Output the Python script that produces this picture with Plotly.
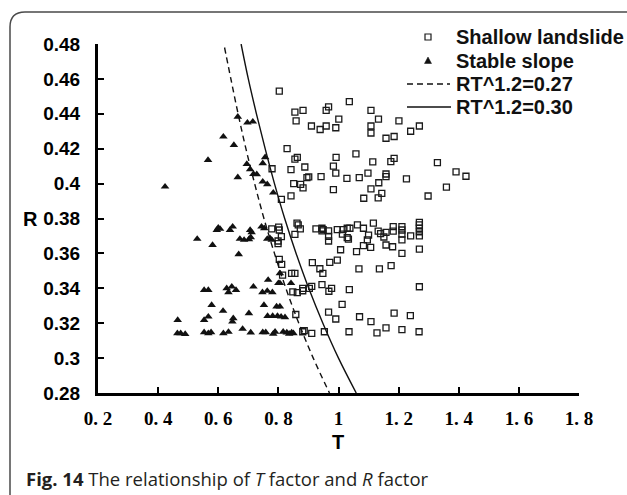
import plotly.graph_objects as go

# ---------------- data ----------------
landslide_T = [0.803, 0.855, 0.882, 0.859, 0.959, 0.967, 1.036, 1.108, 1.001, 0.910, 0.939, 0.959, 0.991, 1.108, 1.108, 1.133, 1.201, 1.158, 1.185, 1.240, 1.269,
               0.829, 0.855, 0.863, 0.779, 0.842, 0.888, 0.810, 0.842, 0.851, 0.874, 0.882, 0.895, 0.901, 0.942, 0.983, 0.992, 0.991, 0.983, 1.028, 1.058, 1.069, 1.098, 1.114, 1.084, 1.108, 1.134, 1.144, 1.132, 1.158, 1.158, 1.174, 1.185, 1.226, 1.298, 1.329, 1.359, 1.391, 1.424,
               0.778, 0.801, 0.803, 0.810, 0.799, 0.799, 0.862, 0.866, 0.873, 0.855, 0.925, 0.945, 0.945, 0.949, 0.967, 0.967, 0.967, 0.996, 1.015, 1.029, 1.038, 1.013, 1.029, 1.033, 1.063, 1.083, 1.116, 1.100, 1.096, 1.083, 1.107, 1.060, 1.007, 1.132, 1.140, 1.151, 1.158, 1.158, 1.180, 1.182, 1.182, 1.211, 1.211, 1.211, 1.211, 1.240, 1.269, 1.269, 1.269, 1.269, 1.269, 1.269, 1.211,
               0.803, 0.811, 0.814, 0.844, 0.855, 0.913, 0.938, 0.948, 0.971, 0.996, 1.068, 1.136, 1.175, 0.848, 0.863, 0.881, 0.881, 0.903, 0.911, 0.945, 0.968, 0.977, 1.036, 1.269,
               1.012, 0.967, 0.991, 0.858, 1.070, 1.108, 1.185, 1.239, 1.158, 1.128, 1.211, 1.268, 1.035, 0.953, 0.911, 0.881, 0.886]
landslide_R = [0.453, 0.441, 0.442, 0.436, 0.442, 0.444, 0.447, 0.442, 0.437, 0.433, 0.431, 0.433, 0.432, 0.433, 0.429, 0.437, 0.436, 0.426, 0.427, 0.430, 0.433,
               0.420, 0.414, 0.415, 0.4085, 0.408, 0.4095, 0.391, 0.393, 0.400, 0.3996, 0.3975, 0.4034, 0.4038, 0.404, 0.410, 0.415, 0.406, 0.3965, 0.403, 0.417, 0.4034, 0.406, 0.4124, 0.3916, 0.397, 0.4005, 0.3944, 0.3918, 0.4055, 0.404, 0.4126, 0.4145, 0.4027, 0.3929, 0.412, 0.398, 0.4067, 0.4042,
               0.374, 0.3751, 0.3734, 0.3696, 0.3671, 0.3656, 0.3773, 0.3763, 0.374, 0.3709, 0.374, 0.3744, 0.3729, 0.3736, 0.3729, 0.3698, 0.3671, 0.3736, 0.3736, 0.3744, 0.3744, 0.3711, 0.369, 0.3682, 0.3763, 0.3744, 0.3773, 0.3705, 0.3677, 0.3644, 0.3635, 0.361, 0.3621, 0.3728, 0.3713, 0.3694, 0.3721, 0.3648, 0.3638, 0.3753, 0.3728, 0.3753, 0.3734, 0.3711, 0.3677, 0.3701, 0.3778, 0.3763, 0.3744, 0.3724, 0.3701, 0.3625, 0.360,
               0.3566, 0.3537, 0.3476, 0.3486, 0.3486, 0.3547, 0.3512, 0.3486, 0.3549, 0.3562, 0.3511, 0.3511, 0.353, 0.3379, 0.3375, 0.3386, 0.340, 0.340, 0.3411, 0.3421, 0.3383, 0.340, 0.3392, 0.3409,
               0.3308, 0.3264, 0.3224, 0.325, 0.3237, 0.3209, 0.3258, 0.3243, 0.3173, 0.3144, 0.3163, 0.3151, 0.3151, 0.3151, 0.3142, 0.3151, 0.3158]

stable_T = [0.665, 0.697, 0.715, 0.617, 0.652, 0.566, 0.423, 0.665, 0.695, 0.706, 0.717, 0.728, 0.748, 0.756, 0.748, 0.763, 0.783,
            0.530, 0.581, 0.595, 0.600, 0.606, 0.639, 0.648, 0.668, 0.672, 0.686, 0.702, 0.708, 0.706, 0.711, 0.744, 0.753, 0.763, 0.772, 0.778,
            0.553, 0.567, 0.628, 0.645, 0.634, 0.659, 0.717, 0.747, 0.763, 0.780, 0.766, 0.800, 0.805, 0.805, 0.842,
            0.578, 0.616, 0.553, 0.567, 0.650, 0.647, 0.702, 0.752, 0.794, 0.805, 0.764, 0.781, 0.797, 0.809, 0.822, 0.465,
            0.464, 0.475, 0.490, 0.553, 0.567, 0.576, 0.617, 0.634, 0.681, 0.708, 0.748, 0.758, 0.783, 0.789, 0.816, 0.828, 0.836, 0.844, 0.850]
stable_R = [0.4383, 0.4349, 0.4355, 0.4269, 0.4221, 0.4135, 0.3982, 0.4036, 0.4112, 0.4082, 0.4055, 0.4053, 0.4116, 0.4151, 0.4011, 0.3996, 0.3948,
            0.3683, 0.3648, 0.3734, 0.3747, 0.374, 0.3734, 0.3753, 0.3595, 0.3683, 0.3677, 0.3681, 0.3692, 0.3734, 0.3721, 0.3753, 0.3744, 0.3683, 0.3687, 0.3677,
            0.339, 0.339, 0.340, 0.3409, 0.3377, 0.339, 0.3409, 0.3377, 0.3385, 0.3377, 0.3448, 0.3429, 0.3429, 0.3486, 0.3429,
            0.3304, 0.327, 0.3218, 0.3237, 0.3228, 0.3209, 0.3257, 0.3304, 0.3295, 0.3295, 0.3241, 0.3241, 0.3241, 0.3237, 0.3234, 0.3218,
            0.3142, 0.3142, 0.3138, 0.3148, 0.3142, 0.3148, 0.3142, 0.3150, 0.3167, 0.3146, 0.3148, 0.3148, 0.3139, 0.3151, 0.3151, 0.3146, 0.3139, 0.3146, 0.3142]

# points
curve027_T = [0.621, 0.642, 0.666, 0.692, 0.721, 0.752, 0.787, 0.825, 0.868, 0.916, 0.970]
curve027_R = [0.478, 0.46, 0.44, 0.42, 0.40, 0.38, 0.36, 0.34, 0.32, 0.30, 0.28]
curve030_T = [0.676, 0.700, 0.727, 0.756, 0.787, 0.821, 0.859, 0.901, 0.948, 1.000, 1.059]
curve030_R = [0.48, 0.46, 0.44, 0.42, 0.40, 0.38, 0.36, 0.34, 0.32, 0.30, 0.28]

series_names = ["Shallow landslide", "Stable slope", "RT^1.2=0.27", "RT^1.2=0.30"]

x_ticks = [0.2, 0.4, 0.6, 0.8, 1.0, 1.2, 1.4, 1.6, 1.8]
x_ticktext = ["0. 2", "0. 4", "0. 6", "0. 8", "1", "1. 2", "1. 4", "1. 6", "1. 8"]
y_ticks = [0.28, 0.30, 0.32, 0.34, 0.36, 0.38, 0.40, 0.42, 0.44, 0.46, 0.48]
y_ticktext = ["0.28", "0.3", "0.32", "0.34", "0.36", "0.38", "0.4", "0.42", "0.44", "0.46", "0.48"]

# ---------------- figure ----------------
W, H = 627, 495
L, R_, T_, B = 98, 48, 44, 102
pw, ph = W - L - R_, H - T_ - B

def px(x):
    return (x - L) / pw

def py(y):
    return (H - B - y) / ph

fig = go.Figure()
fig.add_trace(go.Scatter(x=landslide_T, y=landslide_R, mode="markers", name=series_names[0], showlegend=False,
                         marker=dict(symbol="square-open", size=6, color="#1a1a1a", line=dict(width=1.3))))
fig.add_trace(go.Scatter(x=stable_T, y=stable_R, mode="markers", name=series_names[1], showlegend=False,
                         marker=dict(symbol="triangle-up", size=7.5, color="#111")))
fig.add_trace(go.Scatter(x=curve027_T, y=curve027_R, mode="lines", name=series_names[2], showlegend=False,
                         line=dict(color="#111", width=1.4, dash="6px,4px", shape="spline")))
fig.add_trace(go.Scatter(x=curve030_T, y=curve030_R, mode="lines", name=series_names[3], showlegend=False,
                         line=dict(color="#111", width=1.4, shape="spline")))

axis_common = dict(showgrid=False, zeroline=False, showline=True, linecolor="black", linewidth=3,
                   ticks="inside", tickcolor="black", tickwidth=2, ticklen=6, mirror=False)

fig.update_xaxes(range=[0.2, 1.8], tickvals=x_ticks, ticktext=x_ticktext,
                 tickfont=dict(family="Liberation Serif", size=19, color="black", weight="bold"),
                 ticklabelstandoff=6, **axis_common)
fig.update_yaxes(range=[0.28, 0.48], tickvals=y_ticks, ticktext=y_ticktext,
                 tickfont=dict(family="Liberation Sans", size=19, color="black", weight="bold"),
                 ticklabelstandoff=11, **axis_common)

# rounded frame around figure (extends past right/bottom edges)
xl, yt = px(10), py(12)
xr, yb = px(W + 20), py(H + 20)
rx, ry = 15 / pw, 15 / ph
frame_path = f"M{xl},{yb} L{xl},{yt - ry} Q{xl},{yt} {xl + rx},{yt} L{xr},{yt}"

# hand-placed legend (glyphs + real text)
leg_x_sym, leg_x_text = 428, 454
leg_rows = [37, 60.5, 84, 107]
shapes = [dict(type="path", path=frame_path, xref="paper", yref="paper",
               line=dict(color="#4a4a4a", width=1.5))]
s = 3
shapes.append(dict(type="rect", xref="paper", yref="paper",
                   x0=px(leg_x_sym - s), x1=px(leg_x_sym + s), y0=py(leg_rows[0] + s), y1=py(leg_rows[0] - s),
                   line=dict(color="#1a1a1a", width=1.2), fillcolor="rgba(0,0,0,0)"))
ty = leg_rows[1]
tri = (f"M{px(leg_x_sym - 3.5)},{py(ty + 3)} L{px(leg_x_sym + 3.5)},{py(ty + 3)} "
       f"L{px(leg_x_sym)},{py(ty - 3.5)} Z")
shapes.append(dict(type="path", path=tri, xref="paper", yref="paper",
                   line=dict(color="#111", width=0.5), fillcolor="#111"))
shapes.append(dict(type="line", xref="paper", yref="paper", x0=px(407), x1=px(450),
                   y0=py(leg_rows[2]), y1=py(leg_rows[2]), line=dict(color="#111", width=1.4, dash="6px,4px")))
shapes.append(dict(type="line", xref="paper", yref="paper", x0=px(407), x1=px(451),
                   y0=py(leg_rows[3]), y1=py(leg_rows[3]), line=dict(color="#111", width=1.4)))

annotations = []
for name, ry_ in zip(series_names, leg_rows):
    annotations.append(dict(text=f"<b>{name}</b>", x=px(leg_x_text), y=py(ry_), xref="paper", yref="paper",
                            showarrow=False, xanchor="left", yanchor="middle",
                            font=dict(family="Liberation Sans", size=20, color="#111")))
annotations += [
    dict(text="<b>R</b>", x=px(30), y=0.38, xref="paper", yref="y", showarrow=False,
         xanchor="center", yanchor="middle",
         font=dict(family="Liberation Sans", size=20, color="black")),
    dict(text="<b>T</b>", x=px(338), y=py(442), xref="paper", yref="paper", showarrow=False,
         xanchor="center", yanchor="middle",
         font=dict(family="Liberation Sans", size=20, color="black")),
    dict(text="<b>Fig. 14</b> The relationship of <i>T</i> factor and <i>R</i> factor",
         x=px(24), y=py(478), xref="paper", yref="paper", showarrow=False,
         xanchor="left", yanchor="middle",
         font=dict(family="Open Sans", size=18.5, color="#231f20")),
]

fig.update_layout(
    width=W, height=H,
    margin=dict(l=L, r=R_, t=T_, b=B),
    plot_bgcolor="white", paper_bgcolor="white",
    showlegend=False,
    shapes=shapes,
    annotations=annotations,
)

fig.write_html("out.html")
